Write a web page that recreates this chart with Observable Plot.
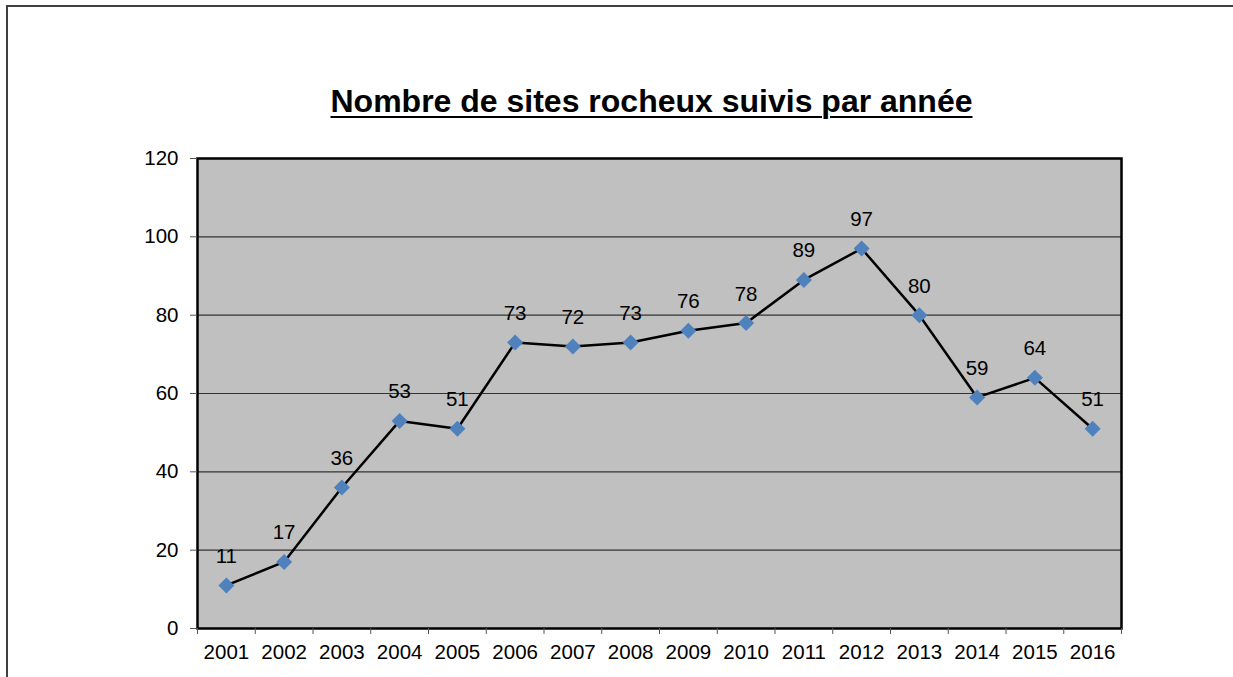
<!DOCTYPE html>
<html>
<head>
<meta charset="utf-8">
<script src="https://cdn.jsdelivr.net/npm/d3@7"></script>
<script src="https://cdn.jsdelivr.net/npm/@observablehq/plot@0.6"></script>
<style>
  html, body { margin: 0; padding: 0; background: #fff; overflow: hidden; }
  #wrap { position: relative; width: 1233px; height: 677px; overflow: hidden; font-family: "Liberation Sans", Arial, sans-serif; }
  #bleft { position: absolute; left: 6px; top: 5px; width: 2px; height: 700px; background: #404040; }
  #btop { position: absolute; left: 6px; top: 5px; width: 1240px; height: 2px; background: #404040; }
  #title { position: absolute; left: 0; top: 85px; width: 1303px; text-align: center; font-size: 32px; line-height: 32px; font-weight: bold; text-decoration: underline; text-decoration-thickness: 2px; text-underline-offset: 4px; color: #000; }
  #chart { position: absolute; left: 0; top: 130px; }
</style>
</head>
<body>
<div id="wrap">
  <div id="bleft"></div>
  <div id="btop"></div>
  <div id="title">Nombre de sites rocheux suivis par année</div>
  <div id="chart"></div>
</div>
<script>
const years = [2001, 2002, 2003, 2004, 2005, 2006, 2007, 2008, 2009, 2010, 2011, 2012, 2013, 2014, 2015, 2016];
const siteCounts = [11, 17, 36, 53, 51, 73, 72, 73, 76, 78, 89, 97, 80, 59, 64, 51];
const yTicks = [0, 20, 40, 60, 80, 100, 120];

const data = years.map((y, i) => ({year: y, value: siteCounts[i]}));
const boundaries = [years[0] - 0.5, ...years.map(y => y + 0.5)];

const chart = Plot.plot({
  width: 1233,
  height: 547,
  marginLeft: 197,
  marginRight: 112,
  marginTop: 28,
  marginBottom: 49,
  style: {fontFamily: '"Liberation Sans", Arial, sans-serif', fontSize: "20.5px", color: "#000", background: "transparent", overflow: "visible"},
  x: {type: "linear", domain: [years[0] - 0.5, years[years.length - 1] + 0.5]},
  y: {domain: [0, 120]},
  marks: [
    Plot.frame({fill: "#C0C0C0", stroke: null}),
    Plot.ruleY(yTicks.filter(t => t > 0 && t < 120), {stroke: "#333", strokeWidth: 1.2}),
    Plot.frame({stroke: "#000", strokeWidth: 2.5}),
    Plot.axisY({ticks: yTicks, tickSize: 7, tickPadding: 12, stroke: "#555", fontSize: 20.5, tickFormat: d => String(d), label: null}),
    Plot.axisX({ticks: boundaries, tickSize: 6, tickPadding: 0, stroke: "#555", tickFormat: () => "", label: null}),
    Plot.axisX({ticks: years, tickSize: 0, tickPadding: 16, fontSize: 20.5, tickFormat: d => String(d), label: null}),
    Plot.line(data, {x: "year", y: "value", stroke: "#000", strokeWidth: 2.5}),
    Plot.dot(data, {x: "year", y: "value", symbol: "diamond2", r: 7.2, fill: "#4F81BD", stroke: null}),
    Plot.text(data, {x: "year", y: "value", text: d => String(d.value), dy: -29, fontSize: 20.5, fill: "#000"})
  ]
});
document.getElementById("chart").appendChild(chart);
</script>
</body>
</html>
